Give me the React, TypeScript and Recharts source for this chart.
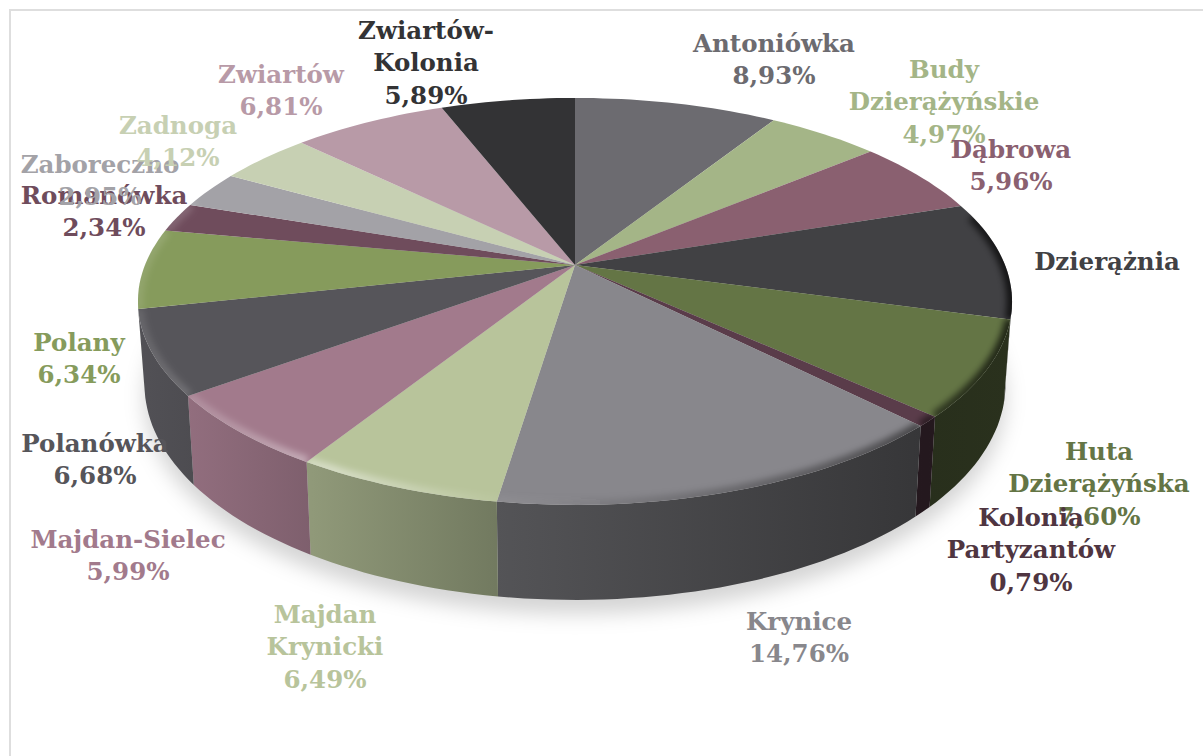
import React from "react";
import { PieChart, Pie } from "recharts";

const CATEGORIES = ["Antoniówka","Budy Dzierążyńskie","Dąbrowa","Dzierążnia","Huta Dzierążyńska","Kolonia Partyzantów","Krynice","Majdan Krynicki","Majdan-Sielec","Polanówka","Polany","Romanówka","Zaboreczno","Zadnoga","Zwiartów","Zwiartów-Kolonia"];
const VALUES = [8.93,4.97,5.96,9.38,7.6,0.79,14.76,6.49,5.99,6.68,6.34,2.34,2.95,4.12,6.81,5.89];
const COLORS = ["#6c6b70","#a4b587","#8a6070","#414144","#647545","#5a3c4a","#88878c","#b8c49b","#a27a8c","#56555a","#869b5c","#6f4c5c","#a3a2a7","#c7d0b3","#b89aa7","#333335"];
const LABEL_COLORS = ["#6c6b70","#a4b587","#8a6070","#414144","#647545","#4f3541","#88878c","#b8c49b","#a27a8c","#56555a","#869b5c","#6f4c5c","#a3a2a7","#c7d0b3","#b89aa7","#333335"];
const NAME_LINES = [["Antoniówka"],["Budy","Dzierążyńskie"],["Dąbrowa"],["Dzierążnia"],["Huta","Dzierążyńska"],["Kolonia","Partyzantów"],["Krynice"],["Majdan","Krynicki"],["Majdan-Sielec"],["Polanówka"],["Polany"],["Romanówka"],["Zaboreczno"],["Zadnoga"],["Zwiartów"],["Zwiartów-","Kolonia"]];
const VALUE_HIDDEN = ["Dzierążnia"];
const LABEL_ANCHORS: [number, number][] = [[774,44],[944,70],[1011,150],[1107,262],[1099,452],[1031,518],[799,622],[325,615],[128,540],[95,444],[79,343],[104,196],[100,165],[178,126],[281,75],[426,31]];

const rows = CATEGORIES.map((name, i) => ({ name, value: VALUES[i], fill: COLORS[i] }));
const SHADOW_ROWS = [{ name: "shadow", value: 100 }];

const K = 0.179, SQUASH = 0.458, BOTTOM_SCALE = 0.985;
const rad = (d: number) => (d * Math.PI) / 180;

function top(cx: number, cy: number, R: number, a: number): [number, number] {
  const x = Math.cos(rad(a)), y = -Math.sin(rad(a));
  const w = 1 - K * y;
  return [cx + (R * x) / w, cy + (R * SQUASH * y) / w];
}
function bottom(cx: number, cy: number, R: number, a: number): [number, number] {
  const [X, Y] = top(cx, cy, R, a);
  const depth = 80 + 15 * -Math.sin(rad(a));
  return [cx + (X - cx) * BOTTOM_SCALE, Y + depth];
}
function samples(a1: number, a2: number): number[] {
  const n = Math.max(2, Math.ceil(Math.abs(a2 - a1) / 1.5));
  return Array.from({ length: n + 1 }, (_, i) => a1 + ((a2 - a1) * i) / n);
}
const toD = (pts: [number, number][]) => pts.map((p, i) => `${i ? "L" : "M"}${p[0].toFixed(1)} ${p[1].toFixed(1)}`).join(" ");

const WALL_STOPS: [number, number][] = [[0, 0.95],[0.2, 0.78],[0.41, 0.62],[0.9, 0.4],[1, 0.42]];
function shade(hex: string, f: number) {
  const n = parseInt(hex.slice(1), 16);
  const c = [(n >> 16) & 255, (n >> 8) & 255, n & 255].map((v) => Math.round(v * f));
  return `rgb(${c[0]},${c[1]},${c[2]})`;
}

function WallShape(p: any) {
  const { cx, cy, outerRadius: R, startAngle, endAngle, index, fill } = p;
  // only the part of the wall that faces the viewer
  const a1 = Math.min(startAngle, -10), a2 = Math.max(endAngle, -168);
  if (a1 <= a2) return <g />;
  const as = samples(a1, a2);
  const d = toD([...as.map((a) => top(cx, cy, R, a)), ...as.slice().reverse().map((a) => bottom(cx, cy, R, a))]) + " Z";
  const id = `wall-${index}`;
  return (
    <g>
      <defs>
        <linearGradient id={id} gradientUnits="userSpaceOnUse" x1={cx - R * 1.02} x2={cx + R * 1.02} y1={0} y2={0}>
          {WALL_STOPS.map(([o, f]) => <stop key={o} offset={o} stopColor={shade(fill, f)} />)}
        </linearGradient>
      </defs>
      <path d={d} fill={`url(#${id})`} stroke="none" />
    </g>
  );
}

function TopShape(p: any) {
  const { cx, cy, outerRadius: R, startAngle, endAngle, index, fill } = p;
  const face = toD([[cx, cy] as [number, number], ...samples(startAngle, endAngle).map((a) => top(cx, cy, R, a))]) + " Z";
  const a1 = Math.min(startAngle, 15), a2 = Math.max(endAngle, -200);
  const rim = a1 > a2 ? toD(samples(a1, a2).map((a) => top(cx, cy, R, a))) : "";
  const id = `face-${index}`;
  return (
    <g>
      <clipPath id={id}><path d={face} /></clipPath>
      <path d={face} fill={fill} stroke="none" />
      {rim && (
        <g clipPath={`url(#${id})`}>
          <path d={rim} fill="none" stroke="url(#bevel)" strokeWidth={11} filter="url(#soft)" />
        </g>
      )}
    </g>
  );
}

function ShadowShape(p: any) {
  const { cx, cy, outerRadius: R, startAngle, endAngle } = p;
  const d = toD(samples(startAngle, endAngle).map((a) => bottom(cx, cy, R, a))) + " Z";
  return <path d={d} fill="#000" fillOpacity={0.17} transform="translate(0,14)" filter="url(#blurShadow)" />;
}

function renderLabel(p: any) {
  const i = p.index;
  const [x, y] = LABEL_ANCHORS[i];
  const lines = [...NAME_LINES[i]];
  if (!VALUE_HIDDEN.includes(CATEGORIES[i])) lines.push(VALUES[i].toFixed(2).replace(".", ",") + "%");
  return (
    <text x={x} y={y + 8} textAnchor="middle" fill={LABEL_COLORS[i]} fontFamily="'DejaVu Serif'" fontWeight={700} fontSize={24.5}>
      {lines.map((l, j) => <tspan key={j} x={x} dy={j ? 32.3 : 0}>{l}</tspan>)}
    </text>
  );
}

export default function App() {
  return (
    <div style={{ position: "fixed", left: 0, top: 0, width: 1203, height: 756, overflow: "hidden", background: "#fff" }}>
      <div style={{ position: "absolute", left: 9, top: 9, width: 1400, height: 1000, border: "2px solid #dedede" }} />
      <div style={{ position: "absolute", left: 0, top: 0 }}>
        <PieChart width={1203} height={756} margin={{ top: 0, right: 0, bottom: 0, left: 0 }}>
          <defs>
            <filter id="blurShadow" filterUnits="userSpaceOnUse" x={0} y={0} width={1203} height={756}>
              <feGaussianBlur stdDeviation={10} />
            </filter>
            <filter id="soft" filterUnits="userSpaceOnUse" x={0} y={0} width={1203} height={756}>
              <feGaussianBlur stdDeviation={3} />
            </filter>
            <linearGradient id="bevel" gradientUnits="userSpaceOnUse" x1={140} x2={1012} y1={0} y2={0}>
              <stop offset={0} stopColor="#fff" stopOpacity={0.1} />
              <stop offset={0.1} stopColor="#fff" stopOpacity={0.2} />
              <stop offset={0.22} stopColor="#fff" stopOpacity={0.42} />
              <stop offset={0.4} stopColor="#fff" stopOpacity={0.05} />
              <stop offset={0.55} stopColor="#000" stopOpacity={0.1} />
              <stop offset={0.85} stopColor="#000" stopOpacity={0.4} />
              <stop offset={1} stopColor="#000" stopOpacity={0.7} />
            </linearGradient>
          </defs>
          <Pie data={SHADOW_ROWS} dataKey="value" cx={575} cy={265} outerRadius={430} startAngle={90} endAngle={-270} stroke="none" shape={ShadowShape} isAnimationActive={false} legendType="none" />
          <Pie data={rows} dataKey="value" cx={575} cy={265} outerRadius={430} startAngle={90} endAngle={-270} stroke="none" shape={WallShape} isAnimationActive={false} legendType="none" />
          <Pie data={rows} dataKey="value" nameKey="name" cx={575} cy={265} outerRadius={430} startAngle={90} endAngle={-270} stroke="none" shape={TopShape} label={renderLabel} labelLine={false} isAnimationActive={false} />
        </PieChart>
      </div>
    </div>
  );
}
